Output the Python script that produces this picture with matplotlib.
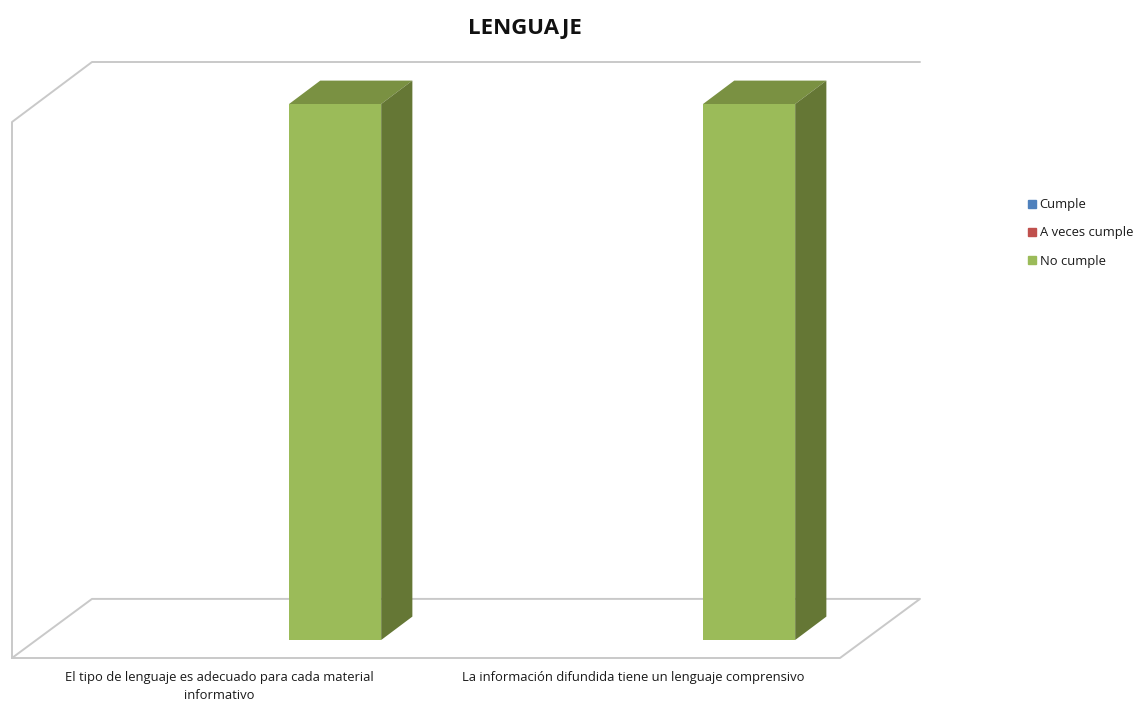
import numpy as np
import matplotlib
matplotlib.use("Agg")
import matplotlib.pyplot as plt
from matplotlib.patches import Patch, Polygon

plt.rcParams["font.family"] = ["Open Sans", "DejaVu Sans"]

categories = ["El tipo de lenguaje es adecuado para cada material\ninformativo",
              "La información difundida tiene un lenguaje comprensivo"]
series_names = ["Cumple", "A veces cumple", "No cumple"]
cumple = [0, 0]
a_veces = [0, 0]
no_cumple = [1, 1]
series_values = [cumple, a_veces, no_cumple]

colors = ["#4F81BD", "#C0504D", "#9BBB59"]
top_colors = ["#3B6390", "#953D3A", "#7A9142"]
side_colors = ["#2F4F73", "#763030", "#657735"]
grid_color = "#C9C9C9"

W, H = 1139, 708
fig = plt.figure(figsize=(W / 100, H / 100), dpi=100)
# axes = the front plane of the 3d box, pixels
left, right, bottom, top = 12, 840, 658, 122
ax = fig.add_axes([left / W, 1 - bottom / H, (right - left) / W, (bottom - top) / H])
ax.set_xlim(0, len(categories))
ax.set_ylim(0, 1)
ax.patch.set_visible(False)

# full depth of the box in data units
depth_x = 80 / (right - left) * len(categories)
depth_y = 60 / (bottom - top)
bar_front = 0.30   # fraction of the depth where bars start
bar_back = 0.69
bar_w = 0.2225
x = np.arange(len(categories)) + 0.5


def frame_line(xs, ys):
    ax.plot(xs, ys, color=grid_color, lw=1.4, clip_on=False, solid_capstyle="round", zorder=1)


# walls and floor
frame_line([0, 0, depth_x, 2 + depth_x], [0, 1, 1 + depth_y, 1 + depth_y])
frame_line([0, 2, 2 + depth_x, depth_x, 0], [0, 0, depth_y * 0.985, depth_y * 0.985, 0])

fx, fy = bar_front * depth_x, bar_front * depth_y
bx, by = bar_back * depth_x, bar_back * depth_y

for i, vals in enumerate(series_values):
    offs = x + (i - 1) * bar_w
    for xc, v in zip(offs, vals):
        if v == 0:
            continue
        x0, x1 = xc - bar_w / 2 + fx, xc + bar_w / 2 + fx
        y0, y1 = fy, v + fy
        ax.bar((x0 + x1) / 2, v, bar_w, bottom=y0, color=colors[i], clip_on=False, zorder=3)
        dx, dy = bx - fx, by - fy
        ax.add_patch(Polygon([(x0, y1), (x1, y1), (x1 + dx, y1 + dy), (x0 + dx, y1 + dy)],
                             closed=True, fc=top_colors[i], ec="none", clip_on=False, zorder=3))
        ax.add_patch(Polygon([(x1, y0), (x1 + dx, y0 + dy), (x1 + dx, y1 + dy), (x1, y1)],
                             closed=True, fc=side_colors[i], ec="none", clip_on=False, zorder=3))

for s in ax.spines.values():
    s.set_visible(False)
ax.set_yticks([])
ax.set_xticks(x)
ax.set_xticklabels(categories, fontsize=9.4, color="#1A1A1A", linespacing=1.55)
ax.tick_params(axis="x", length=0, pad=9)

handles = [Patch(color=c, label=n) for c, n in zip(colors, series_names)]
fig.legend(handles=handles, loc="center left", bbox_to_anchor=(1028 / W, 1 - 233 / H), frameon=False,
           fontsize=9.4, labelcolor="#1A1A1A", handlelength=0.6, handleheight=0.6,
           handletextpad=0.3, labelspacing=1.15, borderpad=0, borderaxespad=0)

fig.text(525 / W, 1 - 28.5 / H, "LENGUAJE", ha="center", va="center", fontsize=16, fontweight="bold", color="#111111")

fig.savefig("out.png", dpi=100)
